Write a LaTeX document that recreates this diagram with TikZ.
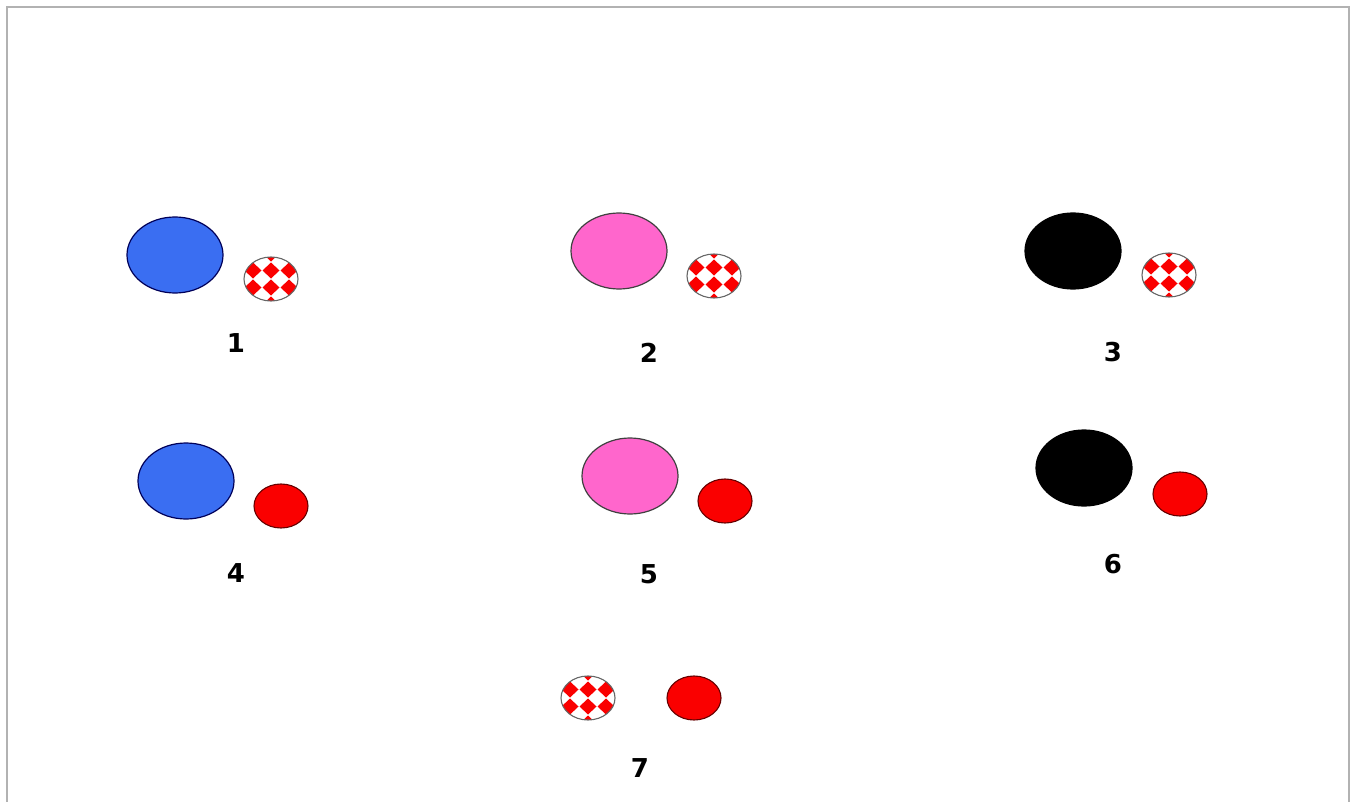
\documentclass[tikz,border=0pt]{standalone}
\usepackage{fontspec}
\newfontfamily\numfont{DejaVu Sans}
\usetikzlibrary{shapes.geometric,calc}
\definecolor{ballblue}{RGB}{58,110,242}
\definecolor{ballpink}{RGB}{255,102,204}
\definecolor{ballred}{RGB}{250,0,0}
\begin{document}
\begin{tikzpicture}[
  x=1pt, y=-1pt,
  big/.style={ellipse, draw=black!75, line width=1.2pt, inner sep=0pt,
              minimum width=96pt, minimum height=76pt},
  small/.style={ellipse, draw=black!70, line width=1.1pt, inner sep=0pt,
                minimum width=54pt, minimum height=44pt},
  solid/.style={small, fill=ballred, draw=red!40!black},
  chk/.style={small, fill=white, draw=black!60,
    path picture={
      \foreach \c in {-3,...,3}{
        \foreach \r in {-3,...,3}{
          \fill[ballred] ($(path picture bounding box.center)+(\c*18,\r*17-8.5)$)
            ++(0,-8) -- ++(8.5,8) -- ++(-8.5,8) -- ++(-8.5,-8) -- cycle;
        }
      }
    }},
  num/.style={font=\numfont\bfseries\fontsize{26}{30}\selectfont, inner sep=0pt},
]
\useasboundingbox (0,0) rectangle (1356,802);

% ---- frame (open at the bottom) ----
\draw[black!30, line width=2.5pt] (7,802) -- (7,7) -- (1349,7) -- (1349,802);

% ---- row 1 ----
\node[big, fill=ballblue, draw=blue!35!black] (b1) at (175,255) {};
\node[chk]  (c1) at (271,279) {};
\node[num]  (n1) at (236,343) {1};

\node[big, fill=ballpink, draw=black!75] (b2) at (619,251) {};
\node[chk]  (c2) at (714,276) {};
\node[num]  (n2) at (649,353) {2};

\node[big, fill=black, draw=black] (b3) at (1073,251) {};
\node[chk]  (c3) at (1169,275) {};
\node[num]  (n3) at (1113,352) {3};

% ---- row 2 ----
\node[big, fill=ballblue, draw=blue!35!black] (b4) at (186,481) {};
\node[solid] (r4) at (281,506) {};
\node[num]   (n4) at (236,573) {4};

\node[big, fill=ballpink, draw=black!75] (b5) at (630,476) {};
\node[solid] (r5) at (725,501) {};
\node[num]   (n5) at (649,574) {5};

\node[big, fill=black, draw=black] (b6) at (1084,468) {};
\node[solid] (r6) at (1180,494) {};
\node[num]   (n6) at (1113,564) {6};

% ---- row 3 ----
\node[chk]   (c7) at (588,698) {};
\node[solid] (r7) at (694,698) {};
\node[num]   (n7) at (640,768) {7};

\end{tikzpicture}
\end{document}
